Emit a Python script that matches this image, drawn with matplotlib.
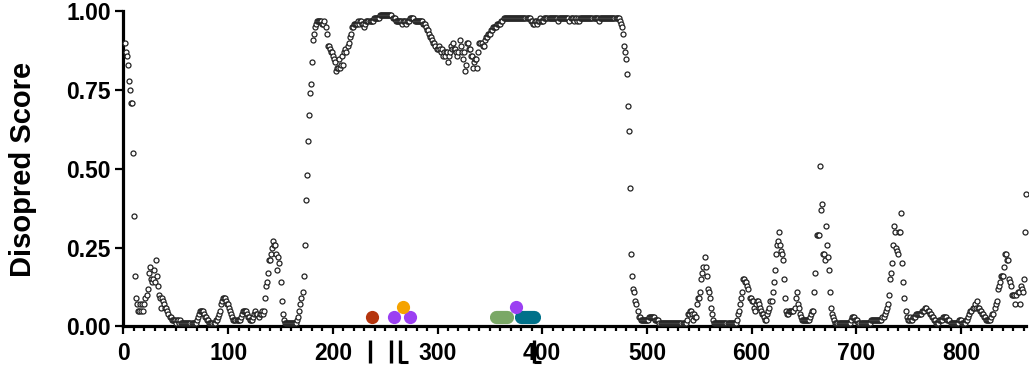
import numpy as np
import matplotlib
matplotlib.use("Agg")
import matplotlib.pyplot as plt
import matplotlib.transforms as mtransforms
from matplotlib.ticker import MultipleLocator, FormatStrFormatter

plt.rcParams['font.family'] = ['Liberation Sans', 'DejaVu Sans']
plt.rcParams['font.weight'] = 'bold'

# disopred score per residue
nterm = [
    0.90, 0.87, 0.86, 0.83, 0.78, 0.75, 0.71, 0.71, 0.55, 0.35,
    0.16, 0.09, 0.07, 0.05, 0.05, 0.07, 0.05, 0.07, 0.05, 0.07,
    0.09, 0.10, 0.12, 0.17, 0.19, 0.15, 0.14, 0.15, 0.18, 0.14,
    0.21, 0.16, 0.13, 0.10, 0.09, 0.06, 0.09, 0.08, 0.07, 0.06,
    0.06, 0.05, 0.04, 0.03, 0.03, 0.02, 0.02, 0.02, 0.02, 0.01,
    0.02, 0.02, 0.01, 0.02, 0.01, 0.01, 0.01, 0.01, 0.01, 0.01,
    0.01, 0.01, 0.01, 0.01, 0.01, 0.01, 0.01, 0.01, 0.01, 0.02,
    0.03, 0.04, 0.05, 0.05, 0.05, 0.05, 0.04, 0.03, 0.03, 0.02,
    0.02, 0.01, 0.01, 0.01, 0.01, 0.01, 0.01, 0.02, 0.02, 0.03,
    0.04, 0.05, 0.07, 0.08, 0.09, 0.09, 0.09, 0.08, 0.07, 0.07,
    0.06, 0.05, 0.04, 0.03, 0.02, 0.02, 0.02, 0.02, 0.02, 0.02,
    0.02, 0.03, 0.04, 0.05, 0.05, 0.05, 0.05, 0.04, 0.03, 0.03,
    0.02, 0.02, 0.02, 0.03, 0.04, 0.05, 0.04, 0.04, 0.03, 0.04,
    0.04, 0.05, 0.04, 0.05, 0.09, 0.13, 0.14, 0.17, 0.21, 0.21,
    0.23, 0.25, 0.27, 0.26, 0.26, 0.23, 0.18, 0.22, 0.20, 0.14,
    0.08, 0.04, 0.02, 0.01, 0.01, 0.01, 0.01, 0.01, 0.01, 0.01,
    0.01, 0.01, 0.01, 0.01, 0.01, 0.02, 0.03, 0.05, 0.07, 0.09,
]
idr = [
    0.11, 0.16, 0.26, 0.40, 0.48, 0.59, 0.67, 0.74, 0.77, 0.84,
    0.91, 0.93, 0.95, 0.96, 0.97, 0.97, 0.97, 0.97, 0.97, 0.96,
    0.96, 0.97, 0.95, 0.93, 0.89, 0.89, 0.88, 0.87, 0.87, 0.86,
    0.85, 0.84, 0.81, 0.82, 0.82, 0.85, 0.82, 0.83, 0.86, 0.83,
    0.87, 0.88, 0.87, 0.89, 0.90, 0.92, 0.93, 0.95, 0.95, 0.96,
    0.96, 0.96, 0.96, 0.97, 0.96, 0.97, 0.97, 0.96, 0.96, 0.95,
    0.96, 0.97, 0.97, 0.97, 0.97, 0.97, 0.97, 0.97, 0.98, 0.98,
    0.98, 0.98, 0.98, 0.98, 0.99, 0.99, 0.99, 0.99, 0.99, 0.99,
    0.99, 0.99, 0.99, 0.99, 0.99, 0.99, 0.98, 0.98, 0.98, 0.97,
    0.97, 0.97, 0.97, 0.97, 0.97, 0.96, 0.97, 0.97, 0.97, 0.96,
    0.97, 0.97, 0.97, 0.98, 0.98, 0.98, 0.98, 0.97, 0.97, 0.97,
    0.97, 0.97, 0.97, 0.97, 0.97, 0.96, 0.96, 0.96, 0.95, 0.94,
    0.94, 0.93, 0.92, 0.92, 0.91, 0.90, 0.90, 0.89, 0.88, 0.88,
    0.89, 0.88, 0.87, 0.88, 0.86, 0.87, 0.86, 0.87, 0.87, 0.84,
    0.86, 0.87, 0.89, 0.88, 0.90, 0.88, 0.88, 0.87, 0.86, 0.87,
    0.91, 0.89, 0.87, 0.85, 0.87, 0.81, 0.83, 0.90, 0.90, 0.88,
    0.88, 0.86, 0.86, 0.82, 0.84, 0.85, 0.85, 0.82, 0.87, 0.90,
    0.90, 0.90, 0.89, 0.89, 0.91, 0.92, 0.92, 0.93, 0.93, 0.93,
    0.94, 0.94, 0.95, 0.95, 0.95, 0.95, 0.96, 0.96, 0.96, 0.96,
    0.97, 0.97, 0.98, 0.98, 0.98, 0.98, 0.98, 0.98, 0.98, 0.98,
    0.98, 0.98, 0.98, 0.98, 0.98, 0.98, 0.98, 0.98, 0.98, 0.98,
    0.98, 0.98, 0.98, 0.98, 0.98, 0.98, 0.98, 0.98, 0.97, 0.97,
    0.96, 0.96, 0.97, 0.97, 0.96, 0.97, 0.97, 0.98, 0.97, 0.97,
    0.97, 0.98, 0.98, 0.98, 0.98, 0.98, 0.98, 0.98, 0.98, 0.98,
    0.98, 0.98, 0.98, 0.98, 0.97, 0.98, 0.98, 0.98, 0.98, 0.98,
    0.98, 0.98, 0.98, 0.98, 0.98, 0.97, 0.98, 0.98, 0.98, 0.97,
    0.98, 0.98, 0.97, 0.98, 0.97, 0.98, 0.98, 0.98, 0.98, 0.98,
    0.98, 0.98, 0.98, 0.98, 0.98, 0.98, 0.98, 0.98, 0.98, 0.98,
    0.98, 0.98, 0.98, 0.97, 0.98, 0.98, 0.98, 0.98, 0.98, 0.98,
    0.98, 0.98, 0.98, 0.98, 0.98, 0.98, 0.98, 0.98, 0.98, 0.98,
    0.98, 0.98, 0.98, 0.97, 0.96, 0.95, 0.93, 0.89, 0.87, 0.85,
    0.80, 0.70, 0.62, 0.44, 0.23, 0.16, 0.12, 0.11, 0.08, 0.07,
]
cterm = [
    0.05, 0.03, 0.03, 0.02, 0.02, 0.02, 0.02, 0.02, 0.02, 0.02,
    0.02, 0.03, 0.03, 0.03, 0.03, 0.03, 0.03, 0.02, 0.02, 0.02,
    0.02, 0.01, 0.01, 0.01, 0.01, 0.01, 0.01, 0.01, 0.01, 0.01,
    0.01, 0.01, 0.01, 0.01, 0.01, 0.01, 0.01, 0.01, 0.01, 0.01,
    0.01, 0.01, 0.01, 0.01, 0.01, 0.01, 0.01, 0.02, 0.04, 0.04,
    0.05, 0.05, 0.04, 0.02, 0.04, 0.03, 0.03, 0.07, 0.09, 0.09,
    0.11, 0.15, 0.17, 0.19, 0.22, 0.19, 0.16, 0.12, 0.11, 0.09,
    0.06, 0.04, 0.02, 0.01, 0.01, 0.01, 0.01, 0.01, 0.01, 0.01,
    0.01, 0.01, 0.01, 0.01, 0.01, 0.01, 0.01, 0.01, 0.01, 0.01,
    0.01, 0.01, 0.01, 0.01, 0.01, 0.02, 0.04, 0.05, 0.07, 0.09,
    0.11, 0.15, 0.15, 0.14, 0.14, 0.13, 0.12, 0.09, 0.09, 0.08,
    0.08, 0.06, 0.05, 0.07, 0.08, 0.08, 0.07, 0.06, 0.05, 0.04,
    0.04, 0.03, 0.02, 0.02, 0.04, 0.05, 0.06, 0.08, 0.08, 0.11,
    0.14, 0.18, 0.23, 0.26, 0.27, 0.30, 0.26, 0.24, 0.23, 0.21,
    0.15, 0.09, 0.05, 0.04, 0.04, 0.05, 0.05, 0.05, 0.05, 0.05,
    0.06, 0.09, 0.11, 0.07, 0.06, 0.04, 0.03, 0.02, 0.02, 0.02,
    0.02, 0.02, 0.02, 0.02, 0.02, 0.03, 0.04, 0.05, 0.05, 0.11,
    0.17, 0.29, 0.29, 0.29, 0.51, 0.37, 0.39, 0.23, 0.23, 0.21,
    0.32, 0.26, 0.22, 0.18, 0.11, 0.06, 0.04, 0.03, 0.02, 0.01,
    0.01, 0.01, 0.01, 0.01, 0.01, 0.01, 0.01, 0.01, 0.01, 0.01,
    0.01, 0.01, 0.01, 0.01, 0.02, 0.03, 0.03, 0.03, 0.02, 0.02,
    0.02, 0.01, 0.01, 0.01, 0.01, 0.01, 0.01, 0.01, 0.01, 0.01,
    0.01, 0.01, 0.01, 0.02, 0.02, 0.02, 0.02, 0.02, 0.02, 0.02,
    0.02, 0.02, 0.02, 0.02, 0.03, 0.03, 0.04, 0.05, 0.06, 0.07,
    0.10, 0.15, 0.17, 0.20, 0.26, 0.32, 0.30, 0.25, 0.24, 0.23,
    0.30, 0.30, 0.36, 0.20, 0.14, 0.09, 0.05, 0.03, 0.02, 0.02,
    0.03, 0.02, 0.02, 0.03, 0.03, 0.03, 0.04, 0.04, 0.04, 0.04,
    0.04, 0.04, 0.05, 0.05, 0.05, 0.06, 0.06, 0.05, 0.05, 0.04,
    0.04, 0.03, 0.03, 0.02, 0.02, 0.01, 0.01, 0.01, 0.02, 0.02,
    0.02, 0.02, 0.03, 0.03, 0.03, 0.03, 0.02, 0.02, 0.02, 0.01,
    0.01, 0.01, 0.01, 0.01, 0.01, 0.01, 0.01, 0.02, 0.02, 0.02,
    0.01, 0.01, 0.01, 0.01, 0.02, 0.02, 0.03, 0.04, 0.05, 0.05,
    0.06, 0.06, 0.07, 0.06, 0.08, 0.06, 0.06, 0.05, 0.05, 0.04,
    0.04, 0.03, 0.03, 0.02, 0.02, 0.02, 0.02, 0.02, 0.03, 0.04,
    0.04, 0.06, 0.07, 0.08, 0.12, 0.13, 0.14, 0.16, 0.16, 0.16,
    0.19, 0.23, 0.23, 0.21, 0.21, 0.15, 0.14, 0.13, 0.10, 0.10,
    0.10, 0.07, 0.10, 0.11, 0.11, 0.07, 0.13, 0.12, 0.11, 0.15,
    0.30, 0.42,
]
score = nterm + idr + cterm
residue = np.arange(1, len(score) + 1)

# site markers along the bottom (residue, height, colour)
site_pos = [237, 258, 274, 267, 375]
site_y = [0.031, 0.031, 0.031, 0.063, 0.063]
site_col = ["#b5350e", "#9b40f2", "#9b40f2", "#f5a300", "#9b40f2"]

# region bars (start, end, colour)
reg_start = [355.5, 379.5]
reg_end = [366.5, 392.5]
reg_col = ["#7aa866", "#00718a"]

# small black marks under the axis
mark_x = [235, 256, 264, 392]
foot_end = [None, None, 272, 399]

fig = plt.figure(figsize=(10.29, 3.65), dpi=100)
ax = fig.add_axes([0.12, 0.1055, 0.877, 0.863])

ax.plot(residue, score, 'o', ms=3.6, mfc='white', mec='#222222', mew=0.9,
        ls='none', clip_on=False, zorder=3)

for s, e, c in zip(reg_start, reg_end, reg_col):
    ax.plot([s, e], [0.031, 0.031], color=c, lw=9.5, solid_capstyle='round', zorder=4)
for x, y, c in zip(site_pos, site_y, site_col):
    ax.plot(x, y, 'o', ms=9.5, color=c, mec='none', zorder=5)

trans = mtransforms.blended_transform_factory(ax.transData, ax.transAxes)
for x, fe in zip(mark_x, foot_end):
    ax.plot([x, x], [-0.043, -0.116], color='black', lw=2.4, transform=trans,
            clip_on=False, solid_capstyle='butt')
    if fe is not None:
        ax.plot([x, fe], [-0.112, -0.112], color='black', lw=2.2, transform=trans,
                clip_on=False, solid_capstyle='butt')

ax.set_xlim(0, 862)
ax.set_ylim(0, 1.0)
ax.xaxis.set_major_locator(MultipleLocator(100))
ax.xaxis.set_minor_locator(MultipleLocator(10))
ax.yaxis.set_major_locator(MultipleLocator(0.25))
ax.yaxis.set_major_formatter(FormatStrFormatter('%.2f'))

for side in ['top', 'right']:
    ax.spines[side].set_visible(False)
for side in ['left', 'bottom']:
    ax.spines[side].set_linewidth(2.3)

ax.tick_params(which='major', length=6, width=1.6, labelsize=16.5, pad=3)
ax.tick_params(axis='x', which='major', pad=5)
ax.tick_params(which='minor', length=3.5, width=1.6)
for lab in ax.get_xticklabels() + ax.get_yticklabels():
    lab.set_fontweight('bold')

ax.set_ylabel("Disopred Score", fontsize=21, fontweight='bold', labelpad=21)

fig.savefig("out.png", dpi=100)
